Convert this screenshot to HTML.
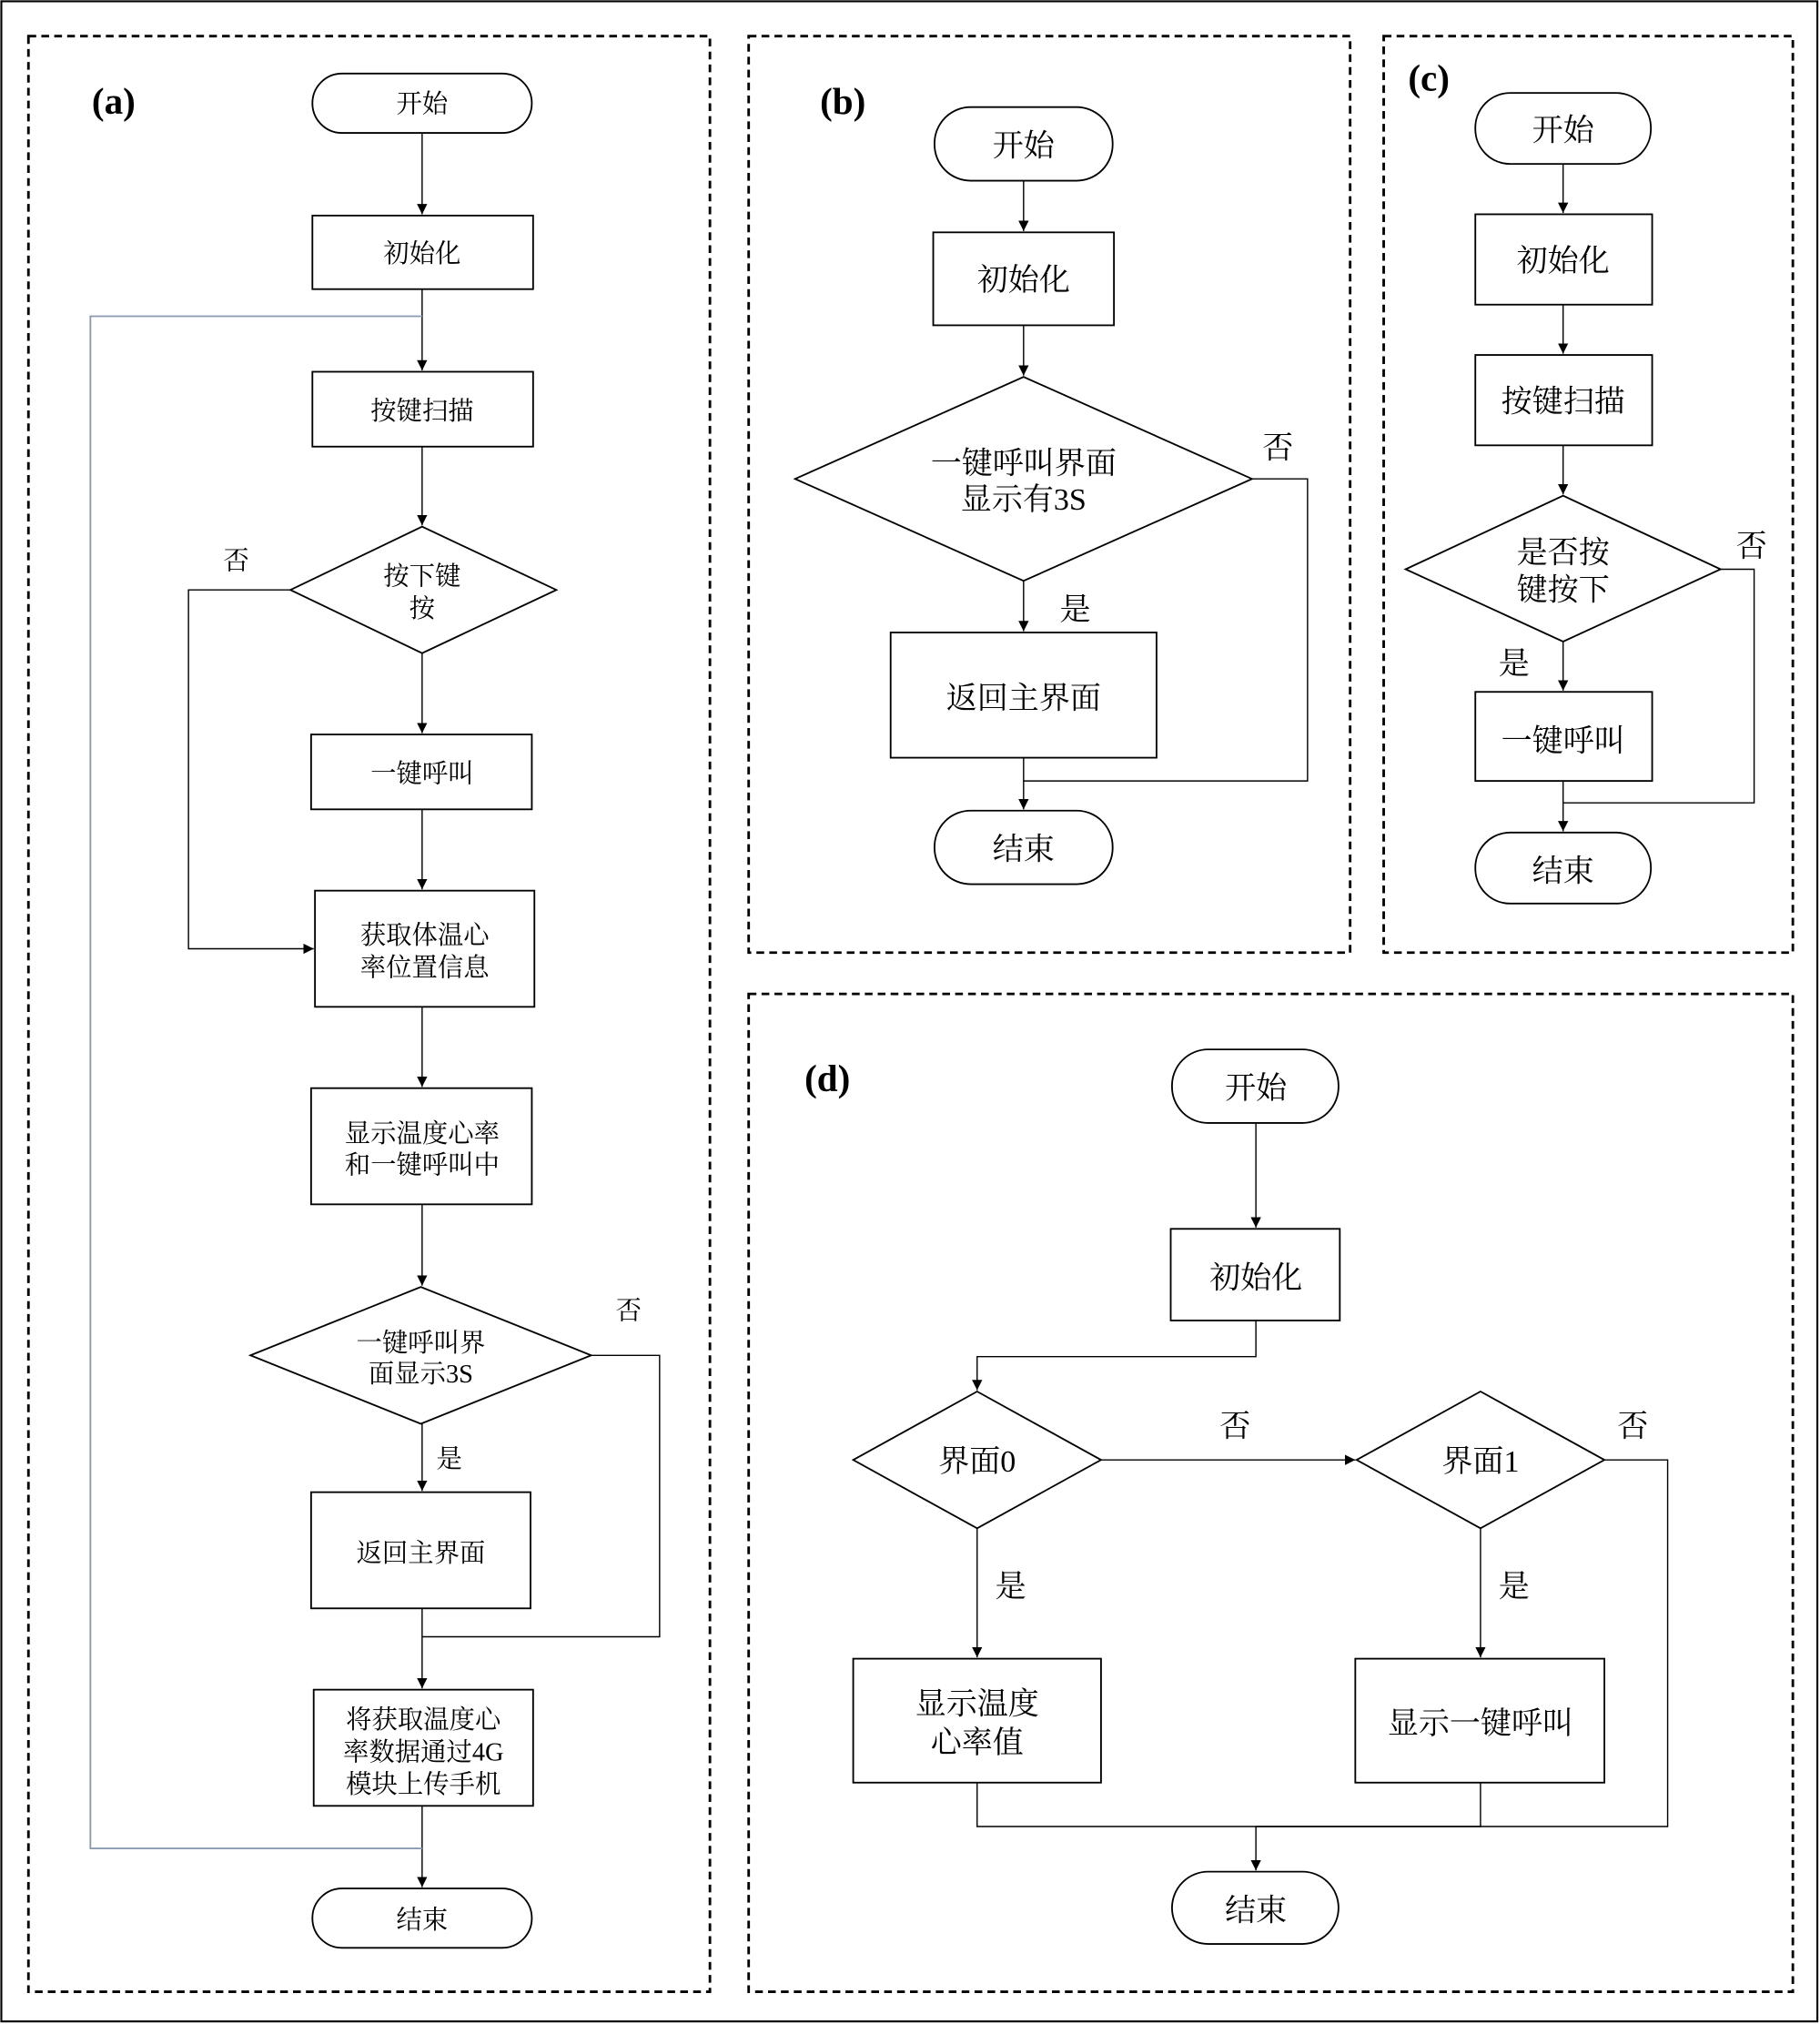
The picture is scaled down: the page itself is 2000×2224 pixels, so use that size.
<!DOCTYPE html>
<html><head><meta charset="utf-8"><style>
html,body{margin:0;padding:0;background:#fff}
svg{display:block}
text{font-family:"Liberation Serif","Noto Serif CJK SC",serif;fill:#000}
.t{font-size:20px}
.T{font-size:24px}
.L{font-size:29px;font-weight:bold}
</style></head><body>
<svg width="2000" height="2224" viewBox="0 0 1410 1568" xmlns="http://www.w3.org/2000/svg">
<defs><marker id="a" markerWidth="10" markerHeight="10" refX="8" refY="4" orient="auto" markerUnits="userSpaceOnUse"><path d="M0,0 L8,4 L0,8 z" fill="#000"/></marker></defs>
<rect x="1" y="1" width="1407" height="1565" fill="none" stroke="#000" stroke-width="1.5"/>
<g fill="none" stroke="#000" stroke-width="2" stroke-dasharray="6,4">
<rect x="22" y="28" width="528" height="1515"/>
<rect x="580" y="28" width="466" height="710"/>
<rect x="1072" y="28" width="317" height="710"/>
<rect x="580" y="770" width="809" height="773"/>
</g>
<g fill="#fff" stroke="#000" stroke-width="1.3">
<!-- a -->
<rect x="242" y="57" width="170" height="46" rx="23"/>
<rect x="242" y="167" width="171" height="57"/>
<rect x="242" y="288" width="171" height="58"/>
<polygon points="225,457 327,408 431,457 327,506"/>
<rect x="241" y="569" width="171" height="58"/>
<rect x="244" y="690" width="170" height="90"/>
<rect x="241" y="843" width="171" height="90"/>
<polygon points="194,1050 326,997 458,1050 326,1103"/>
<rect x="241" y="1156" width="170" height="90"/>
<rect x="243" y="1309" width="170" height="90"/>
<rect x="242" y="1463" width="170" height="46" rx="23"/>
<!-- b -->
<rect x="724" y="83" width="138" height="57" rx="28"/>
<rect x="723" y="180" width="140" height="72"/>
<polygon points="616,371 793,292 970,371 793,450"/>
<rect x="690" y="490" width="206" height="97"/>
<rect x="724" y="628" width="138" height="57" rx="28"/>
<!-- c -->
<rect x="1143" y="72" width="136" height="55" rx="27"/>
<rect x="1143" y="166" width="137" height="70"/>
<rect x="1143" y="275" width="137" height="70"/>
<polygon points="1089,441 1211,384 1333,441 1211,497"/>
<rect x="1143" y="536" width="137" height="69"/>
<rect x="1143" y="645" width="136" height="55" rx="27"/>
<!-- d -->
<rect x="908" y="813" width="129" height="57" rx="28"/>
<rect x="907" y="952" width="131" height="71"/>
<polygon points="661,1131 757,1078 853,1131 757,1184"/>
<polygon points="1051,1131 1147,1078 1243,1131 1147,1184"/>
<rect x="661" y="1285" width="192" height="96"/>
<rect x="1050" y="1285" width="193" height="96"/>
<rect x="908" y="1450" width="129" height="56" rx="28"/>
</g>
<g fill="none" stroke="#000" stroke-width="1">
<!-- a -->
<line x1="327" y1="103" x2="327" y2="166" marker-end="url(#a)"/>
<line x1="327" y1="224" x2="327" y2="287" marker-end="url(#a)"/>
<line x1="327" y1="346" x2="327" y2="407" marker-end="url(#a)"/>
<line x1="327" y1="506" x2="327" y2="568" marker-end="url(#a)"/>
<line x1="327" y1="627" x2="327" y2="689" marker-end="url(#a)"/>
<polyline points="225,457 146,457 146,735 243,735" marker-end="url(#a)"/>
<line x1="327" y1="780" x2="327" y2="842" marker-end="url(#a)"/>
<line x1="327" y1="933" x2="327" y2="996" marker-end="url(#a)"/>
<line x1="327" y1="1103" x2="327" y2="1155" marker-end="url(#a)"/>
<line x1="327" y1="1246" x2="327" y2="1308" marker-end="url(#a)"/>
<polyline points="458,1050 511,1050 511,1268 327,1268"/>
<line x1="327" y1="1399" x2="327" y2="1462" marker-end="url(#a)"/>
<!-- b -->
<line x1="793" y1="140" x2="793" y2="179" marker-end="url(#a)"/>
<line x1="793" y1="252" x2="793" y2="291" marker-end="url(#a)"/>
<line x1="793" y1="450" x2="793" y2="489" marker-end="url(#a)"/>
<line x1="793" y1="587" x2="793" y2="627" marker-end="url(#a)"/>
<polyline points="970,371 1013,371 1013,605 793,605"/>
<!-- c -->
<line x1="1211" y1="127" x2="1211" y2="165" marker-end="url(#a)"/>
<line x1="1211" y1="236" x2="1211" y2="274" marker-end="url(#a)"/>
<line x1="1211" y1="345" x2="1211" y2="383" marker-end="url(#a)"/>
<line x1="1211" y1="497" x2="1211" y2="535" marker-end="url(#a)"/>
<line x1="1211" y1="605" x2="1211" y2="644" marker-end="url(#a)"/>
<polyline points="1333,441 1359,441 1359,622 1211,622"/>
<!-- d -->
<line x1="973" y1="870" x2="973" y2="951" marker-end="url(#a)"/>
<polyline points="973,1023 973,1051 757,1051 757,1077" marker-end="url(#a)"/>
<line x1="853" y1="1131" x2="1050" y2="1131" marker-end="url(#a)"/>
<line x1="757" y1="1184" x2="757" y2="1284" marker-end="url(#a)"/>
<line x1="1147" y1="1184" x2="1147" y2="1284" marker-end="url(#a)"/>
<polyline points="1243,1131 1292,1131 1292,1415 973,1415"/>
<polyline points="757,1381 757,1415 1147,1415 1147,1381"/>
<line x1="973" y1="1415" x2="973" y2="1449" marker-end="url(#a)"/>
</g>
<polyline points="327,245 70,245 70,1432 327,1432" fill="none" stroke="#8a9bb0" stroke-width="1.3"/>
<g text-anchor="middle">
<text class="L" x="88" y="88">(a)</text>
<text class="L" x="653" y="88">(b)</text>
<text class="L" x="1107" y="70">(c)</text>
<text class="L" x="641" y="845">(d)</text>
<g class="t">
<text x="327" y="87">开始</text>
<text x="327" y="203">初始化</text>
<text x="327" y="325">按键扫描</text>
<text x="327" y="453">按下键</text>
<text x="327" y="478">按</text>
<text x="183" y="441">否</text>
<text x="327" y="606">一键呼叫</text>
<text x="329" y="731">获取体温心</text>
<text x="329" y="756">率位置信息</text>
<text x="327" y="885">显示温度心率</text>
<text x="327" y="909">和一键呼叫中</text>
<text x="326" y="1047">一键呼叫界</text>
<text x="326" y="1071">面显示3S</text>
<text x="487" y="1022">否</text>
<text x="348" y="1137">是</text>
<text x="326" y="1210">返回主界面</text>
<text x="328" y="1339">将获取温度心</text>
<text x="328" y="1364">率数据通过4G</text>
<text x="328" y="1389">模块上传手机</text>
<text x="327" y="1494">结束</text>
</g>
<g class="T">
<text x="793" y="121">开始</text>
<text x="793" y="225">初始化</text>
<text x="793" y="367">一键呼叫界面</text>
<text x="793" y="395">显示有3S</text>
<text x="990" y="355">否</text>
<text x="833" y="480">是</text>
<text x="793" y="549">返回主界面</text>
<text x="793" y="666">结束</text>
<text x="1211" y="109">开始</text>
<text x="1211" y="210">初始化</text>
<text x="1211" y="319">按键扫描</text>
<text x="1211" y="436">是否按</text>
<text x="1211" y="465">键按下</text>
<text x="1357" y="431">否</text>
<text x="1173" y="522">是</text>
<text x="1211" y="582">一键呼叫</text>
<text x="1211" y="683">结束</text>
<text x="973" y="851">开始</text>
<text x="973" y="998">初始化</text>
<text x="757" y="1140">界面0</text>
<text x="1147" y="1140">界面1</text>
<text x="957" y="1113">否</text>
<text x="1265" y="1113">否</text>
<text x="783" y="1237">是</text>
<text x="1173" y="1237">是</text>
<text x="757" y="1328">显示温度</text>
<text x="757" y="1358">心率值</text>
<text x="1147" y="1343">显示一键呼叫</text>
<text x="973" y="1488">结束</text>
</g>
</g>
</svg>
</body></html>
